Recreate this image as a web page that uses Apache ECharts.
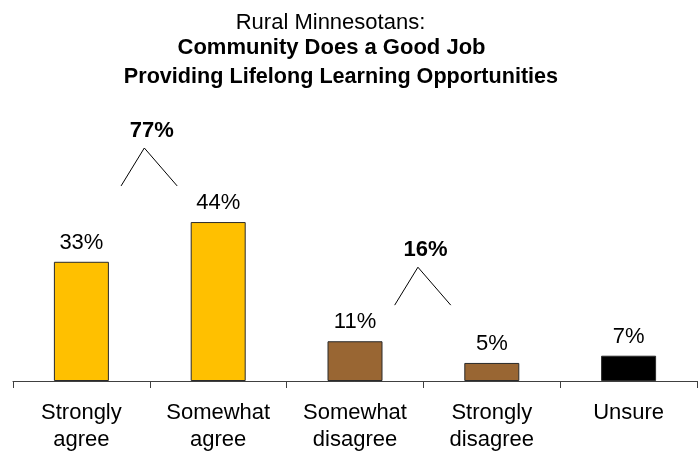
<!DOCTYPE html>
<html>
<head>
<meta charset="utf-8">
<script src="https://cdn.jsdelivr.net/npm/echarts@6/dist/echarts.min.js"></script>
<style>
  html, body { margin: 0; padding: 0; background: #fff; }
  #chart { width: 699px; height: 453px; }
</style>
</head>
<body>
<div id="chart"></div>
<script>
// Survey answers and shares (%)
const categories = ['Strongly\nagree', 'Somewhat\nagree', 'Somewhat\ndisagree', 'Strongly\ndisagree', 'Unsure'];
const values = [33, 44, 11, 5, 7];
const barColors = ['#FFC000', '#FFC000', '#996633', '#996633', '#000000'];
// Combined totals shown above pairs of bars (category index ranges)
const groups = [[0, 1], [2, 3]];
// Heading lines
const titleLines = ['Rural Minnesotans:', 'Community Does a Good Job', 'Providing Lifelong Learning Opportunities'];

const FONT = '"Liberation Sans", Arial, sans-serif';

// Build bracket polylines and total labels for each group
const bracketSeries = [];
const totalPoints = [];
groups.forEach(([from, to]) => {
  const top = Math.max(...values.slice(from, to + 1));
  const total = values.slice(from, to + 1).reduce((s, v) => s + v, 0);
  const mid = (from + to) / 2;
  bracketSeries.push({
    type: 'line',
    xAxisIndex: 1,
    silent: true,
    symbol: 'none',
    clip: false,
    lineStyle: { color: '#000', width: 1 },
    data: [[from + 0.29, top + 10], [mid - 0.04, top + 20.5], [to - 0.3, top + 10]],
    z: 3
  });
  totalPoints.push({ value: [mid + 0.015, top + 25.3], total: total });
});

// Heading placement: centre x, middle y, weight
const titleLayout = [
  { x: 330.5, y: 23, weight: 'normal', size: 22 },
  { x: 331.5, y: 48, weight: 'bold', size: 22 },
  { x: 341, y: 77, weight: 'bold', size: 21.6 }
];

const chart = echarts.init(document.getElementById('chart'), null, { renderer: 'canvas' });
chart.setOption({
  animation: false,
  textStyle: { fontFamily: FONT },
  graphic: titleLines.map((t, i) => ({
    type: 'text',
    x: titleLayout[i].x,
    y: titleLayout[i].y,
    silent: true,
    style: {
      text: t,
      fill: '#000',
      font: `${titleLayout[i].weight} ${titleLayout[i].size}px ${FONT}`,
      textAlign: 'center',
      textVerticalAlign: 'middle'
    }
  })),
  grid: { left: 13, right: 2, top: 92, bottom: 68, containLabel: false },
  xAxis: [
    {
      type: 'category',
      data: categories,
      axisLine: { lineStyle: { color: '#404040', width: 1 } },
      axisTick: { show: true, length: 7, lineStyle: { color: '#404040' } },
      axisLabel: { fontFamily: FONT, fontSize: 22, color: '#000', lineHeight: 27, margin: 18, interval: 0 }
    },
    {
      type: 'value',
      min: -0.5,
      max: 4.5,
      show: false
    }
  ],
  yAxis: {
    type: 'value',
    min: 0,
    max: 80,
    show: false,
    splitLine: { show: false }
  },
  series: [
    {
      type: 'bar',
      barWidth: 55,
      data: values.map((v, i) => ({
        value: v,
        itemStyle: { color: barColors[i], borderColor: '#2a2a2a', borderWidth: 1 }
      })),
      label: {
        show: true,
        position: 'top',
        distance: 8,
        formatter: p => p.value + '%',
        fontFamily: FONT,
        fontSize: 22,
        color: '#000'
      },
      z: 2
    },
    ...bracketSeries,
    {
      type: 'scatter',
      xAxisIndex: 1,
      symbol: 'circle',
      symbolSize: 0,
      silent: true,
      clip: false,
      itemStyle: { opacity: 1 },
      data: totalPoints,
      label: {
        show: true,
        position: 'inside',
        formatter: p => p.data.total + '%',
        fontFamily: FONT,
        fontSize: 22,
        fontWeight: 'bold',
        color: '#000',
        opacity: 1
      }
    }
  ]
});
</script>
</body>
</html>
